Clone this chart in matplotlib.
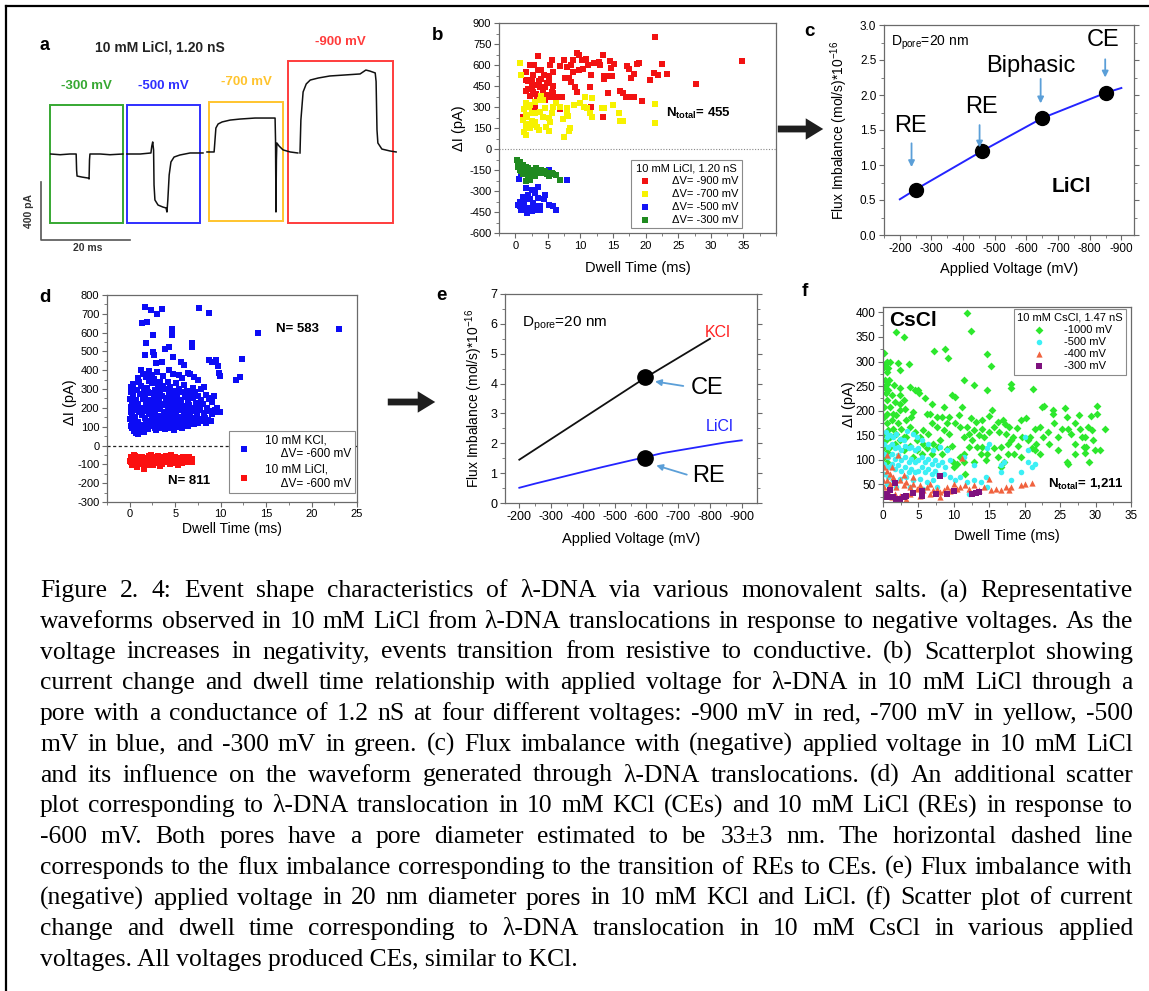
import numpy as np
import matplotlib
matplotlib.use("Agg")
import matplotlib.pyplot as plt
from matplotlib.patches import Rectangle, FancyArrowPatch
from matplotlib.lines import Line2D
from matplotlib.ticker import MultipleLocator, FormatStrFormatter

plt.rcParams['font.family'] = ['Liberation Sans', 'DejaVu Sans']
plt.rcParams['mathtext.fontset'] = 'custom'
plt.rcParams['mathtext.rm'] = 'Liberation Sans'
plt.rcParams['mathtext.it'] = 'Liberation Sans:italic'
plt.rcParams['mathtext.bf'] = 'Liberation Sans:bold'
plt.rcParams['axes.unicode_minus'] = False

W, H = 1149, 991

# ---------------- (a) 代表波形 : 時間 (ms), 電流 (pA) ----------------
wave_labels = ['-300 mV', '-500 mV', '-700 mV', '-900 mV']
wave_colors = ['#36a832', '#2f2fff', '#ffc42e', '#ff3c3c']
wave_t = [
    [2.2, 4.3, 6.5, 7.9, 8.0, 8.1, 9.2, 10.6, 10.8, 10.9, 11.0, 13.3, 15.5, 18.4],
    [19.3, 22.3, 24.7, 24.9, 25.1, 25.3, 25.4, 25.6, 26.3, 27.4, 28.1, 28.3, 28.5,
     28.8, 29.2, 29.9, 31.2, 33.5, 35.7, 36.4],
    [37.3, 38.9, 39.1, 39.3, 39.8, 40.7, 42.5, 44.7, 48.1, 51.5, 52.6, 52.7, 52.8,
     52.9, 53.0, 53.5, 54.4, 56.0, 57.7],
    [58.2, 58.4, 58.9, 59.6, 60.5, 62.3, 64.9, 68.3, 71.7, 73.0, 73.9, 75.1, 75.3,
     75.5, 75.7, 76.6, 78.4, 79.8],
]
wave_i = [
    [0, -5, 0, 0, -110, -152, -159, -166, -172, -40, 0, 0, -5, 0],
    [0, 0, 7, 55, 83, 28, -214, -317, -352, -366, -372, -400, -317, -145, -55, -21,
     -7, 7, 7, 7],
    [14, 14, 97, 179, 207, 221, 234, 241, 248, 248, 248, 97, -400, -41, 76, 55, 28,
     14, 7],
    [7, 234, 428, 483, 510, 524, 538, 545, 552, 579, 572, 559, 500, 166, 76, 34, 21, 14],
]
box_t0 = [2.0, 19.3, 37.8, 55.5]
box_t1 = [18.4, 35.7, 54.4, 79.1]
box_i0 = [-476, -476, -462, -476]
box_i1 = [338, 338, 359, 641]

# ---------------- (b) 10 mM LiCl 散布図 (ms, pA) ----------------
b_900 = [(21.4, 800), (34.8, 627), (27.8, 464), (22.5, 610), (23.2, 535), (21.3, 545),
         (21.9, 530), (20.6, 490), (19.4, 345), (18.2, 535), (17.8, 510), (17.1, 593),
         (17.4, 575), (18.6, 605), (19.0, 615), (16.1, 415), (16.6, 400), (17.0, 368),
         (17.6, 368), (18.2, 368), (15.1, 610), (14.7, 577), (14.5, 630), (13.5, 670),
         (14.3, 518), (14.8, 518), (13.6, 518), (13.6, 500), (13.4, 228), (14.3, 397),
         (11.6, 297), (11.5, 443), (11.6, 527), (13.0, 597), (12.8, 620), (12.0, 615),
         (11.2, 598), (10.8, 640), (10.4, 575), (9.8, 563), (9.4, 685), (9.8, 670),
         (10.2, 638), (8.9, 635), (8.6, 598), (8.9, 550), (8.6, 480), (9.2, 440),
         (9.4, 410), (8.3, 505), (7.4, 638), (6.9, 590), (7.9, 587), (7.6, 510),
         (7.1, 368), (6.3, 373), (6.8, 283), (5.8, 449), (5.8, 550), (5.6, 635),
         (5.4, 598), (5.2, 518), (4.8, 470), (5.6, 410), (5.3, 373), (4.5, 350),
         (4.4, 527), (4.0, 503), (3.9, 563), (3.7, 487), (3.5, 663), (3.8, 440),
         (3.9, 373), (3.4, 350), (3.0, 457), (2.7, 527), (2.8, 598), (2.2, 598),
         (1.6, 550), (1.6, 490), (2.0, 432), (2.7, 410), (2.2, 380), (1.6, 415),
         (3.0, 302), (1.2, 228), (2.5, 450), (3.2, 390), (4.2, 420), (4.5, 440),
         (5.1, 480), (4.2, 373), (4.8, 385), (5.8, 397), (3.5, 563), (2.0, 487),
         (2.5, 490)]
b_700 = [(0.7, 615), (0.9, 527), (1.6, 330), (1.3, 283), (1.7, 243), (1.2, 207),
         (1.6, 165), (1.4, 125), (1.7, 100), (2.2, 148), (2.5, 200), (2.6, 255),
         (2.1, 302), (3.0, 255), (3.1, 195), (3.4, 160), (3.7, 137), (3.0, 338),
         (4.0, 378), (4.3, 350), (4.5, 290), (4.3, 230), (5.1, 220), (4.7, 160),
         (5.1, 130), (5.3, 195), (3.8, 267), (2.7, 172), (2.1, 180), (1.8, 227),
         (2.3, 314), (5.6, 255), (6.3, 326), (6.9, 302), (8.0, 290), (7.9, 255),
         (8.1, 236), (8.4, 148), (8.3, 130), (7.3, 212), (7.4, 88), (9.0, 314),
         (9.9, 326), (10.5, 302), (10.7, 368), (11.0, 290), (11.5, 255), (11.8, 227),
         (11.8, 361), (13.3, 290), (13.6, 290), (15.0, 314), (15.9, 255), (16.1, 200),
         (16.6, 200), (21.4, 320), (21.4, 183), (3.8, 350), (5.8, 302)]
b_500 = [(0.6, -215), (0.9, -173), (5.1, -150), (7.9, -220), (2.2, -196), (1.2, -340),
         (0.7, -375), (0.4, -400), (0.7, -410), (1.2, -410), (1.4, -385), (1.7, -357),
         (2.0, -327), (1.7, -280), (2.5, -290), (2.2, -360), (2.7, -385), (3.0, -410),
         (3.2, -433), (2.2, -420), (2.5, -446), (1.5, -420), (3.5, -350), (3.0, -314),
         (3.5, -268), (3.8, -410), (4.4, -360), (4.5, -327), (5.2, -400), (5.8, -410),
         (6.3, -433), (3.8, -435), (0.9, -433), (1.8, -457)]
b_300 = [(0.26, -82), (0.4, -101), (0.67, -90), (0.6, -113), (0.9, -125), (1.2, -137),
         (0.7, -149), (1.4, -149), (1.7, -161), (2.0, -137), (2.2, -149), (2.5, -172),
         (2.7, -161), (3.0, -149), (3.2, -172), (3.5, -161), (3.8, -172), (4.0, -168),
         (4.3, -172), (4.8, -177), (5.3, -172), (5.8, -177), (6.3, -184), (6.8, -220),
         (2.2, -220), (1.7, -232), (2.7, -191), (0.7, -125), (1.2, -113), (1.6, -125),
         (0.4, -125), (0.9, -154), (2.0, -184), (3.2, -137), (3.9, -149), (4.5, -154),
         (5.2, -191), (5.6, -168), (3.0, -191), (1.2, -177)]
b_labels = ['\u0394V= -900 mV', '\u0394V= -700 mV', '\u0394V= -500 mV', '\u0394V= -300 mV']
b_colors = ['#f21212', '#f7f200', '#1414f5', '#1f8a1f']

# ---------------- (c) LiCl フラックス不均衡 ----------------
c_line_v = [-200, -250, -460, -650, -850, -900]
c_line_f = [0.51, 0.65, 1.20, 1.67, 2.03, 2.10]
c_pts_v = [-250, -460, -650, -850]
c_pts_f = [0.65, 1.20, 1.67, 2.03]
c_tags = ['RE', 'RE', 'Biphasic', 'CE']
c_tag_v = [-233, -458, -614, -842]
c_tag_f = [1.55, 1.83, 2.41, 2.78]
c_arrow_v = [-237, -452, -645, -849]
c_arrow_f0 = [1.31, 1.57, 2.23, 2.51]
c_arrow_f1 = [0.97, 1.25, 1.88, 2.25]

# ---------------- (d) KCl / LiCl at -600 mV ----------------
d_kcl = [(1.65, 734), (2.3, 720), (3.0, 697), (3.6, 724), (1.4, 649), (1.95, 658),
         (2.6, 587), (1.8, 543), (1.7, 481), (2.6, 495), (2.7, 481), (3.9, 511),
         (4.3, 525), (4.6, 617), (4.6, 587), (4.8, 472), (5.6, 445), (6.0, 428),
         (6.8, 543), (6.9, 525), (7.6, 729), (8.7, 702), (8.7, 454), (9.0, 445),
         (9.5, 454), (9.7, 422), (9.8, 383), (9.9, 369), (11.7, 348), (12.1, 366),
         (12.4, 458), (14.1, 600), (23.0, 617), (2.9, 436), (3.5, 445), (4.3, 401),
         (5.4, 374), (6.4, 387), (7.1, 366), (7.5, 348), (8.2, 312), (9.1, 250),
         (0.1, 312), (0.18, 283), (0.08, 247), (0.22, 228), (0.12, 203), (0.16, 176),
         (0.24, 158), (0.06, 142), (0.2, 118), (0.1, 104), (0.27, 92),
         (0.37, 327), (0.31, 265), (0.42, 212), (0.29, 171), (0.38, 133), (0.44, 108),
         (0.52, 77), (0.63, 296), (0.67, 243), (0.55, 187), (0.61, 152), (0.72, 66),
         (0.66, 97), (0.88, 358), (0.97, 338), (0.84, 293), (0.92, 222), (1.03, 177),
         (0.89, 123), (0.96, 61), (1.22, 403), (1.27, 318), (1.14, 273), (1.19, 202),
         (1.32, 163), (1.21, 108), (1.26, 83), (1.48, 378), (1.56, 303), (1.44, 248),
         (1.52, 193), (1.63, 147), (1.5, 98), (1.57, 72), (1.79, 362), (1.86, 307),
         (1.73, 268), (1.82, 218), (1.91, 183), (1.78, 133), (1.87, 88), (2.12, 398),
         (2.17, 343), (2.04, 287), (2.11, 243), (2.23, 198), (2.09, 167), (2.16, 118),
         (2.03, 86), (2.42, 373), (2.47, 332), (2.33, 278), (2.38, 233), (2.52, 183),
         (2.41, 152), (2.46, 103), (2.71, 352), (2.77, 297), (2.64, 262), (2.69, 208),
         (2.83, 172), (2.72, 128), (2.76, 92), (3.02, 393), (3.07, 322), (2.93, 273),
         (2.98, 237), (3.12, 193), (3.01, 157), (3.06, 108), (2.94, 82), (3.31, 338),
         (3.37, 292), (3.24, 248), (3.29, 207), (3.42, 158), (3.28, 127), (3.36, 93),
         (3.62, 368), (3.66, 317), (3.53, 263), (3.58, 222), (3.72, 178), (3.61, 142),
         (3.67, 98), (3.91, 302), (3.97, 253), (3.84, 217), (3.88, 173), (4.02, 132),
         (3.93, 87), (4.21, 338), (4.27, 282), (4.13, 238), (4.19, 192), (4.32, 148),
         (4.22, 112), (4.48, 312), (4.57, 258), (4.43, 227), (4.52, 178), (4.62, 137),
         (4.49, 93), (4.81, 378), (4.87, 292), (4.74, 243), (4.79, 202), (4.91, 158),
         (4.82, 122), (4.86, 83), (5.12, 332), (5.16, 268), (5.04, 217), (5.09, 173),
         (5.22, 142), (5.11, 98), (5.42, 298), (5.47, 242), (5.33, 193), (5.41, 152),
         (5.52, 108), (5.71, 358), (5.77, 282), (5.63, 228), (5.69, 187), (5.82, 128),
         (5.72, 92), (6.02, 322), (6.06, 258), (5.94, 212), (5.99, 163), (6.12, 118),
         (6.31, 288), (6.36, 242), (6.24, 188), (6.29, 147), (6.41, 103), (6.61, 378),
         (6.67, 272), (6.54, 218), (6.59, 172), (6.72, 123), (6.91, 308), (6.96, 252),
         (6.84, 198), (6.89, 148), (7.02, 112), (7.21, 282), (7.26, 228), (7.13, 182),
         (7.19, 133), (7.51, 262), (7.56, 208), (7.43, 158), (7.49, 118), (7.81, 298),
         (7.86, 242), (7.74, 188), (7.79, 143), (8.11, 222), (8.16, 173), (8.04, 128),
         (8.42, 268), (8.46, 202), (8.33, 148), (8.39, 118), (8.71, 248), (8.77, 183),
         (8.64, 138), (9.02, 232), (9.06, 168), (8.94, 128), (9.31, 262), (9.36, 188),
         (9.62, 198), (9.66, 176), (9.91, 180)]
d_licl = [(0.1, -60), (0.2, -75), (0.15, -90), (0.3, -65), (0.35, -85), (0.4, -100),
          (0.5, -70), (0.55, -58), (0.6, -90), (0.8, -113), (0.75, -78), (0.9, -62),
          (1.0, -95), (1.1, -72), (1.2, -85), (1.3, -60), (1.4, -100), (1.6, -122),
          (1.5, -78), (1.7, -65), (1.8, -90), (2.0, -75), (2.1, -58), (2.2, -95),
          (2.4, -68), (2.5, -85), (2.6, -102), (2.8, -62), (2.9, -78), (3.0, -92),
          (3.1, -55), (3.2, -70), (3.4, -85), (3.5, -98), (3.6, -62), (3.8, -75),
          (3.9, -90), (4.0, -58), (4.2, -72), (4.3, -88), (4.4, -100), (4.6, -65),
          (4.7, -80), (4.8, -95), (5.0, -60), (5.1, -75), (5.2, -90), (5.3, -102),
          (5.5, -68), (5.6, -82), (5.8, -95), (5.9, -62), (6.0, -75), (6.2, -88),
          (6.3, -70), (6.5, -60), (6.6, -80), (6.8, -72), (6.9, -85), (0.25, -105),
          (1.9, -105), (3.3, -108), (0.05, -82), (0.45, -52), (2.3, -50), (4.5, -52)]

# ---------------- (e) KCl vs LiCl ----------------
e_kcl_v = [-200, -600, -800]
e_kcl_f = [1.45, 4.22, 5.50]
e_pts_v = [-595, -595]
e_pts_f = [4.22, 1.50]

# ---------------- (f) 10 mM CsCl 散布図 ----------------
f_1000 = [(1.9, 361), (2.9, 350), (0.2, 318), (0.6, 300), (0.6, 279), (0.95, 300),
          (2.1, 297), (3.6, 295), (0.9, 262), (2.4, 247), (1.5, 252), (2.4, 231),
          (3.8, 248), (4.5, 242), (4.9, 242), (5.1, 235), (7.2, 321), (8.7, 326),
          (9.2, 308), (11.8, 398), (12.4, 363), (14.7, 316), (15.3, 290), (11.5, 262),
          (12.8, 253), (14.7, 242), (18.0, 255), (18.0, 247), (21.2, 245), (9.7, 231),
          (10.1, 228), (11.2, 208), (8.6, 208), (6.9, 214), (5.9, 225), (6.7, 194),
          (7.6, 187), (9.0, 174), (10.7, 191), (12.4, 185), (14.0, 180), (15.0, 189),
          (15.4, 201), (16.2, 177), (16.9, 180), (17.2, 172), (17.8, 167), (18.3, 146),
          (18.9, 165), (19.5, 180), (20.2, 184), (20.8, 146), (21.4, 163), (22.4, 208),
          (22.7, 210), (21.4, 119), (22.1, 112), (22.6, 146), (24.0, 202), (24.0, 194),
          (25.7, 205), (25.9, 187), (26.1, 163), (25.9, 95), (26.1, 92), (27.6, 191),
          (27.8, 163), (28.1, 146), (28.3, 126), (29.0, 167), (29.3, 189), (28.7, 126),
          (29.1, 95), (30.2, 209), (30.2, 193), (29.7, 141), (29.9, 119), (30.6, 119),
          (31.4, 163), (27.1, 111), (28.5, 114), (24.7, 146), (24.7, 119), (23.4, 133),
          (23.3, 157), (22.2, 167), (21.6, 133), (21.0, 123), (20.4, 140), (19.6, 146),
          (19.0, 129), (18.5, 112), (17.6, 112), (17.1, 95), (16.6, 85), (16.2, 106),
          (15.6, 123), (14.7, 112), (13.8, 112), (13.3, 126), (12.6, 140), (12.1, 126),
          (11.4, 112), (10.8, 106), (10.5, 92), (10.0, 85), (11.6, 72), (9.3, 153),
          (8.6, 160), (8.1, 141), (7.7, 126), (7.1, 133), (6.4, 153), (5.7, 160),
          (5.2, 146), (5.7, 133), (4.8, 140), (4.5, 157), (3.8, 167), (3.3, 180),
          (4.0, 187), (4.3, 197), (3.1, 204), (2.4, 201), (1.9, 191), (1.4, 194),
          (1.0, 208), (0.6, 221), (0.4, 235), (0.2, 248), (0.7, 242), (1.2, 231),
          (1.7, 218), (2.4, 214), (2.9, 221), (1.3, 180), (0.5, 194), (0.2, 208),
          (0.2, 187), (0.5, 174), (0.7, 160), (0.2, 153), (0.4, 140), (1.0, 146),
          (1.4, 163), (2.1, 174), (2.6, 163), (2.9, 146), (1.9, 153), (0.2, 126),
          (0.6, 116), (1.0, 126), (1.7, 133), (2.4, 141), (3.3, 146), (3.8, 129),
          (2.9, 119), (0.2, 106), (0.5, 95), (0.4, 296), (0.7, 286), (0.2, 289),
          (0.3, 262), (0.5, 255), (2.4, 282), (6.2, 194), (6.9, 174), (7.6, 167),
          (8.3, 187), (9.3, 187), (10.2, 174), (10.9, 167), (11.9, 167), (12.8, 160),
          (13.5, 150), (14.3, 146), (15.0, 157), (15.7, 167), (16.4, 157), (17.3, 153),
          (18.1, 140), (14.0, 163), (13.1, 177), (12.1, 153), (11.4, 146), (9.7, 129),
          (9.0, 122), (8.3, 112), (6.9, 112), (6.2, 123), (5.5, 112), (4.8, 119),
          (4.3, 106), (9.9, 95), (11.4, 95), (12.8, 95), (14.5, 99), (14.0, 126),
          (16.6, 126), (19.5, 106), (17.6, 133), (24.2, 174), (25.2, 163), (26.6, 153),
          (27.1, 174), (27.1, 133), (28.5, 146), (29.5, 160)]
f_500 = [(0.4, 157), (0.6, 146), (1.0, 150), (1.4, 146), (1.9, 153), (2.4, 143),
         (2.9, 140), (0.2, 133), (0.7, 126), (1.2, 133), (1.7, 123), (2.1, 126),
         (2.6, 119), (3.1, 129), (3.6, 123), (4.0, 126), (4.5, 119), (5.0, 123),
         (0.2, 112), (0.7, 106), (1.2, 112), (1.7, 102), (2.1, 109), (2.6, 99),
         (3.1, 106), (3.6, 95), (4.0, 102), (4.5, 95), (5.0, 99), (5.5, 106),
         (5.9, 95), (6.4, 102), (6.9, 92), (7.4, 99), (7.8, 89), (8.3, 95),
         (8.8, 85), (0.2, 92), (0.7, 85), (1.2, 92), (1.7, 82), (2.1, 89),
         (2.6, 78), (3.1, 85), (3.6, 75), (4.0, 82), (4.5, 75), (5.0, 78),
         (5.5, 85), (5.9, 75), (6.4, 82), (6.9, 72), (7.4, 78), (7.8, 68),
         (8.6, 72), (9.5, 65), (10.2, 58), (10.9, 65), (11.9, 55), (12.8, 58),
         (13.8, 55), (14.5, 65), (15.0, 133), (14.7, 123), (16.6, 89), (17.1, 95),
         (18.1, 58), (19.5, 75), (20.0, 146), (20.4, 95), (21.0, 85), (21.4, 92),
         (12.8, 89), (11.4, 106), (9.5, 99), (9.0, 119), (8.1, 126), (7.1, 119),
         (6.4, 133), (5.5, 140), (4.8, 146), (4.3, 153), (3.4, 159), (0.2, 72),
         (0.7, 65), (1.4, 58), (0.5, 51), (2.4, 61), (3.3, 65), (4.3, 58),
         (5.2, 61), (6.2, 55), (7.1, 58), (1.0, 41), (1.9, 44), (3.8, 44),
         (5.7, 41), (7.6, 44), (0.1, 31), (12.1, 31), (14.7, 44), (16.6, 75),
         (20.4, 119)]
f_400 = [(0.6, 109), (2.1, 109), (0.2, 85), (0.5, 78), (1.0, 72), (0.5, 58),
         (1.0, 51), (1.4, 55), (1.9, 44), (2.4, 58), (2.9, 48), (3.3, 55),
         (3.8, 44), (4.3, 51), (4.8, 41), (5.2, 48), (5.7, 38), (6.2, 44),
         (6.7, 51), (7.1, 38), (7.6, 41), (8.1, 34), (8.6, 38), (9.0, 44),
         (9.5, 36), (10.0, 51), (10.5, 41), (10.9, 44), (11.2, 104), (11.6, 48),
         (12.1, 41), (12.8, 48), (13.5, 38), (14.3, 44), (15.0, 61), (15.2, 38),
         (15.9, 41), (16.6, 38), (17.3, 44), (17.8, 39), (18.1, 44), (19.5, 48),
         (20.0, 51), (21.0, 52), (0.2, 44), (0.7, 34), (1.7, 31), (2.4, 27),
         (3.8, 31), (5.2, 27), (6.7, 31), (8.1, 24), (1.2, 24), (3.2, 21),
         (2.9, 68), (1.2, 85), (1.4, 65), (4.3, 65), (0.05, 58)]
f_300 = [(0.6, 31), (1.0, 25), (1.4, 24), (1.9, 21), (2.4, 21), (2.9, 24),
         (1.7, 53), (3.3, 27), (4.3, 32), (5.5, 36), (5.5, 27), (7.5, 31),
         (8.1, 66), (9.0, 31), (10.0, 36), (12.6, 31), (13.1, 32), (13.5, 34),
         (0.2, 24), (1.0, 38)]
f_labels = ['-1000 mV', '-500 mV', '-400 mV', '-300 mV']
f_colors = ['#2de82d', '#3cf0f5', '#f0623e', '#7e117e']
f_markers = ['D', 'o', '^', 's']

caption_lines = [
    "Figure 2. 4: Event shape characteristics of \u03bb-DNA via various monovalent salts. (a) Representative",
    "waveforms observed in 10 mM LiCl from \u03bb-DNA translocations in response to negative voltages. As the",
    "voltage increases in negativity, events transition from resistive to conductive. (b) Scatterplot showing",
    "current change and dwell time relationship with applied voltage for \u03bb-DNA in 10 mM LiCl through a",
    "pore with a conductance of 1.2 nS at four different voltages: -900 mV in red, -700 mV in yellow, -500",
    "mV in blue, and -300 mV in green. (c) Flux imbalance with (negative) applied voltage in 10 mM LiCl",
    "and its influence on the waveform generated through \u03bb-DNA translocations. (d) An additional scatter",
    "plot corresponding to \u03bb-DNA translocation in 10 mM KCl (CEs) and 10 mM LiCl (REs) in response to",
    "-600 mV. Both pores have a pore diameter estimated to be 33\u00b13 nm. The horizontal dashed line",
    "corresponds to the flux imbalance corresponding to the transition of REs to CEs. (e) Flux imbalance with",
    "(negative) applied voltage in 20 nm diameter pores in 10 mM KCl and LiCl. (f) Scatter plot of current",
    "change and dwell time corresponding to \u03bb-DNA translocation in 10 mM CsCl in various applied",
    "voltages. All voltages produced CEs, similar to KCl.",
]

fig = plt.figure(figsize=(W / 100, H / 100), dpi=100)
fig.patch.set_facecolor('white')


def px_axes(l, t, r, b):
    return fig.add_axes([l / W, 1 - b / H, (r - l) / W, (b - t) / H])


def fig_text(x, y, s, **kw):
    return fig.text(x / W, 1 - y / H, s, **kw)


def style(ax, xmaj, ymaj, size, right=False):
    for sp in ax.spines.values():
        sp.set_color('#6a6a6a')
        sp.set_linewidth(0.9)
    ax.xaxis.set_major_locator(MultipleLocator(xmaj))
    ax.xaxis.set_minor_locator(MultipleLocator(xmaj / 2))
    ax.yaxis.set_major_locator(MultipleLocator(ymaj))
    ax.yaxis.set_minor_locator(MultipleLocator(ymaj / 2))
    ax.tick_params(which='major', direction='out', length=3.5, width=0.8,
                   color='#6a6a6a', labelsize=size, pad=2, right=right)
    ax.tick_params(which='minor', direction='out', length=2, width=0.6,
                   color='#6a6a6a', right=right)


# ---- a ----
ax = px_axes(20, 20, 410, 262)
ax.set_xlim(-4.72, 82.92)
ax.set_ylim(-744.8, 924.1)
ax.axis('off')
for k in range(4):
    ax.plot(wave_t[k], wave_i[k], color='#111111', lw=1.1)
    ax.add_patch(Rectangle((box_t0[k], box_i0[k]), box_t1[k] - box_t0[k],
                           box_i1[k] - box_i0[k], fill=False,
                           edgecolor=wave_colors[k], lw=1.4))
    ax.annotate(wave_labels[k], xy=((box_t0[k] + box_t1[k]) / 2, box_i1[k]),
                xytext=(0, 14), textcoords='offset points', ha='center', va='center',
                color=wave_colors[k], fontsize=9.5, fontweight='bold')
ax.plot([0, 0, 20], [-193, -593, -593], color='#555555', lw=1.2)
ax.text(-2.6, -393, '400 pA', rotation=90, ha='center', va='center', fontsize=7.5,
        fontweight='bold', color='#333333')
ax.text(10.5, -612, '20 ms', ha='center', va='top', fontsize=7.5,
        fontweight='bold', color='#333333')
fig_text(45, 46, 'a', fontsize=13, fontweight='bold', ha='center', va='center')
fig_text(160, 47, '10 mM LiCl, 1.20 nS', fontsize=10, fontweight='bold',
         ha='center', va='center', color='#222222')

# ---- b ----
ax = px_axes(499, 23, 776, 233)
for data, col, lab in zip([b_900, b_700, b_500, b_300], b_colors, b_labels):
    arr = np.array(data)
    ax.scatter(arr[:, 0], arr[:, 1], marker='s', s=17, color=col, linewidths=0,
               label=lab)
ax.axhline(0, color='#888888', lw=0.8, ls=(0, (1, 1.5)))
ax.set_xlim(-2.5, 40)
ax.set_ylim(-600, 900)
style(ax, 5, 150, 8)
ax.set_xticks(np.arange(0, 36, 5))
ax.set_xlabel('Dwell Time (ms)', fontsize=10.5)
ax.set_ylabel('\u0394I (pA)', fontsize=10.5)
ax.xaxis.set_label_coords(0.5, -0.135)
ax.yaxis.set_label_coords(-0.12, 0.5)
leg = ax.legend(title='10 mM LiCl, 1.20 nS', loc='lower right',
                bbox_to_anchor=(0.877, 0.024), borderaxespad=0, fontsize=8,
                title_fontsize=8, fancybox=False, edgecolor='#8a8a8a', framealpha=1,
                handletextpad=1.4, labelspacing=0.25, borderpad=0.3, markerscale=1.0)
leg.get_frame().set_linewidth(0.8)
ax.text(0.72, 0.57, r'N$_\mathbf{total}$= 455', transform=ax.transAxes, fontsize=9.5,
        fontweight='bold', ha='center', va='center')
fig_text(438, 35, 'b', fontsize=13.5, fontweight='bold', ha='center', va='center')

# ---- c ----
ax = px_axes(884, 25, 1134, 235)
ax.plot(c_line_v, c_line_f, color='#2424ff', lw=1.4)
ax.plot(c_pts_v, c_pts_f, 'o', color='black', ms=10)
for k in range(4):
    ax.annotate('', xy=(c_arrow_v[k], c_arrow_f1[k]), xytext=(c_arrow_v[k], c_arrow_f0[k]),
                arrowprops=dict(arrowstyle='-|>', color='#5b9fd8', lw=1.3,
                                mutation_scale=9, shrinkA=0, shrinkB=0))
    ax.text(c_tag_v[k], c_tag_f[k], c_tags[k], fontsize=17, ha='center', va='center')
ax.text(-743, 0.70, 'LiCl', fontsize=15, fontweight='bold', ha='center', va='center')
ax.text(-171, 2.74, r'D$_\mathregular{pore}$=20 nm', fontsize=10, ha='left', va='center')
ax.set_xlim(-150, -940)
ax.set_ylim(0, 3)
style(ax, 100, 0.5, 8.5, right=True)
ax.set_xticks(np.arange(-200, -901, -100))
ax.yaxis.set_major_formatter(FormatStrFormatter('%.1f'))
ax.set_xlabel('Applied Voltage (mV)', fontsize=10.5)
ax.set_ylabel(r'Flux Imbalance (mol/s)*10$^\mathregular{-16}$', fontsize=10)
ax.xaxis.set_label_coords(0.5, -0.13)
ax.yaxis.set_label_coords(-0.135, 0.5)
fig_text(809, 32, 'c', fontsize=13.5, fontweight='bold', ha='center', va='center')

# ---- d ----
ax = px_axes(107, 295, 357, 502)
arr = np.array(d_kcl)
ax.scatter(arr[:, 0], arr[:, 1], marker='s', s=14, color='#0c0cf5', linewidths=0,
           label='10 mM KCl,\n     \u0394V= -600 mV')
arr = np.array(d_licl)
ax.scatter(arr[:, 0], arr[:, 1], marker='s', s=14, color='#fb1010', linewidths=0,
           label='10 mM LiCl,\n     \u0394V= -600 mV')
ax.axhline(0, color='#222222', lw=0.9, ls=(0, (2.5, 2)))
ax.set_xlim(-2.5, 25)
ax.set_ylim(-300, 800)
style(ax, 5, 100, 8)
ax.tick_params(axis='x', pad=1.5)
ax.set_xlabel('Dwell Time (ms)', fontsize=10)
ax.set_ylabel('\u0394I (pA)', fontsize=10.5)
ax.xaxis.set_label_coords(0.5, -0.095)
ax.yaxis.set_label_coords(-0.12, 0.48)
leg = ax.legend(loc='lower right', bbox_to_anchor=(0.992, 0.043), borderaxespad=0,
                fontsize=8.5, fancybox=False, edgecolor='#8a8a8a', framealpha=1,
                handletextpad=0.8, labelspacing=0.3, borderpad=0.3)
leg.get_frame().set_linewidth(0.8)
ax.text(0.76, 0.835, 'N= 583', transform=ax.transAxes, fontsize=9.5,
        fontweight='bold', ha='center', va='center')
ax.text(0.33, 0.10, 'N= 811', transform=ax.transAxes, fontsize=9.5,
        fontweight='bold', ha='center', va='center')
fig_text(45, 297, 'd', fontsize=13.5, fontweight='bold', ha='center', va='center')

# ---- e ----
ax = px_axes(505, 294, 757, 503)
ax.plot(e_kcl_v, e_kcl_f, color='#111111', lw=1.3)
ax.plot(c_line_v, c_line_f, color='#2424ff', lw=1.3)
ax.plot(e_pts_v, e_pts_f, 'o', color='black', ms=11)
ax.annotate('', xy=(-627, 4.07), xytext=(-716, 3.92),
            arrowprops=dict(arrowstyle='-|>', color='#5b9fd8', lw=1.3,
                            mutation_scale=9, shrinkA=0, shrinkB=0))
ax.annotate('', xy=(-631, 1.26), xytext=(-727, 0.95),
            arrowprops=dict(arrowstyle='-|>', color='#5b9fd8', lw=1.3,
                            mutation_scale=9, shrinkA=0, shrinkB=0))
ax.text(-792, 3.85, 'CE', fontsize=17, ha='center', va='center')
ax.text(-795, 0.89, 'RE', fontsize=17, ha='center', va='center')
ax.text(-823, 5.72, 'KCl', fontsize=11.5, color='#ff2020', ha='center', va='center')
ax.text(-830, 2.56, 'LiCl', fontsize=11.5, color='#2424ff', ha='center', va='center')
ax.text(-207, 6.0, r'D$_\mathregular{pore}$=20 nm', fontsize=11, ha='left', va='center')
ax.set_xlim(-155, -948)
ax.set_ylim(0, 7)
style(ax, 100, 1, 9, right=True)
ax.set_xticks(np.arange(-200, -901, -100))
ax.set_xlabel('Applied Voltage (mV)', fontsize=10.5)
ax.set_ylabel(r'Flux Imbalance (mol/s)*10$^\mathregular{-16}$', fontsize=10)
ax.xaxis.set_label_coords(0.5, -0.14)
ax.yaxis.set_label_coords(-0.078, 0.5)
fig_text(441, 295, 'e', fontsize=13.5, fontweight='bold', ha='center', va='center')

# ---- f ----
ax = px_axes(883, 307, 1131, 502)
for data, col, mk, lab in zip([f_1000, f_500, f_400, f_300], f_colors, f_markers, f_labels):
    arr = np.array(data)
    ax.scatter(arr[:, 0], arr[:, 1], marker=mk, s=16 if mk != '^' else 20, color=col,
               linewidths=0, label=lab)
ax.set_xlim(0, 35)
ax.set_ylim(14, 411)
style(ax, 5, 50, 8.5)
ax.set_xlabel('Dwell Time (ms)', fontsize=10.5)
ax.set_ylabel('\u0394I (pA)', fontsize=10.5)
ax.xaxis.set_label_coords(0.5, -0.14)
ax.yaxis.set_label_coords(-0.11, 0.5)
leg = ax.legend(title='10 mM CsCl, 1.47 nS', loc='upper right',
                bbox_to_anchor=(0.98, 0.99), borderaxespad=0, fontsize=8,
                title_fontsize=8, fancybox=False, edgecolor='#8a8a8a', framealpha=1,
                handletextpad=1.2, labelspacing=0.2, borderpad=0.3)
leg.get_frame().set_linewidth(0.8)
ax.text(0.97, 0.092, r'N$_\mathbf{total}$= 1,211', transform=ax.transAxes,
        fontsize=9.5, fontweight='bold', ha='right', va='center')
ax.text(0.025, 0.93, 'CsCl', transform=ax.transAxes, fontsize=15,
        fontweight='bold', ha='left', va='center')
fig_text(805, 292, 'f', fontsize=13.5, fontweight='bold', ha='center', va='center')

# ---- パネル間の矢印 ----
for x0, x1, y in [(775, 826, 129), (385, 438, 402)]:
    fig.add_artist(FancyArrowPatch(
        (x0 / W, 1 - y / H), (x1 / W, 1 - y / H), transform=fig.transFigure,
        arrowstyle='simple,head_length=0.9,head_width=1.1,tail_width=0.35',
        mutation_scale=14, color='#1e1e1e', lw=0))

# ---- 枠線 ----
fig.add_artist(Line2D([6 / W, 6 / W], [0, 1 - 6 / H], transform=fig.transFigure,
                      color='black', lw=1.6))
fig.add_artist(Line2D([6 / W, 1], [1 - 6 / H, 1 - 6 / H], transform=fig.transFigure,
                      color='black', lw=1.6))

# ---- キャプション (両端揃え) ----
renderer = fig.canvas.get_renderer()
cap_l, cap_r = 40, 1133
probe = [fig.text(0, 0, ln, fontsize=10, family='Liberation Serif')
         for ln in caption_lines[:-1]]
widest = max(p.get_window_extent(renderer).width for p in probe)
for p in probe:
    p.remove()
cap_size = min(18.5, 10 * (cap_r - cap_l) / widest * 0.985)
for n, line in enumerate(caption_lines):
    y = 591 + n * 30.75
    if n == len(caption_lines) - 1:
        fig_text(cap_l, y, line, fontsize=cap_size, family='Liberation Serif',
                 va='center')
        continue
    words = line.split(' ')
    texts = [fig_text(0, y, w, fontsize=cap_size, family='Liberation Serif',
                      va='center') for w in words]
    widths = [t.get_window_extent(renderer).width for t in texts]
    gap = (cap_r - cap_l - sum(widths)) / (len(words) - 1)
    x = cap_l
    for t, wd in zip(texts, widths):
        t.set_x(x / W)
        x += wd + gap

fig.savefig('out.png', dpi=100)
